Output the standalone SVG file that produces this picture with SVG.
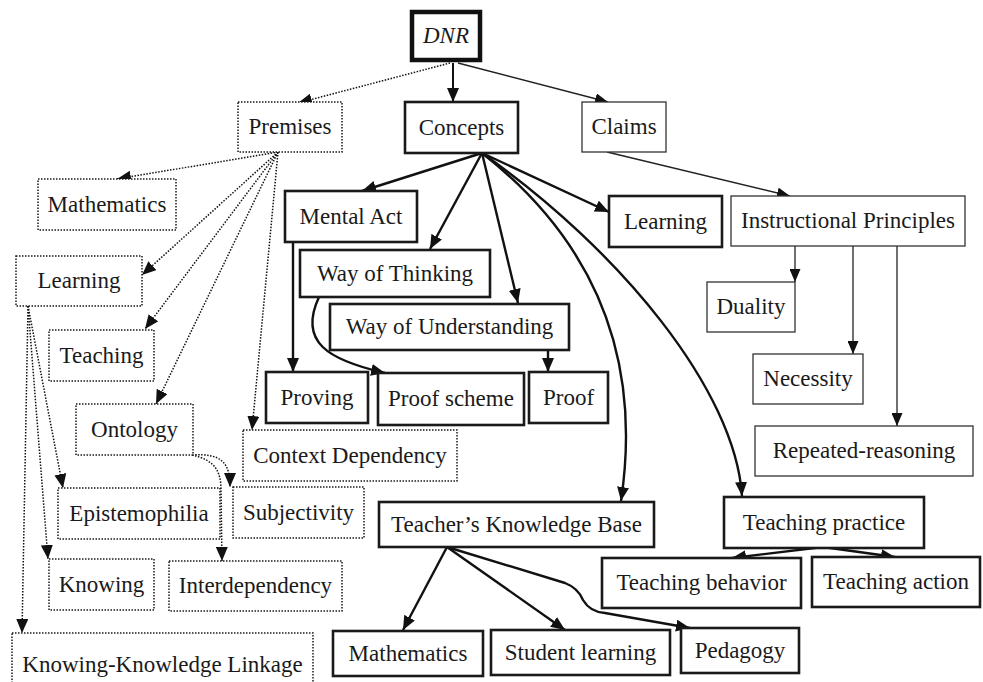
<svg xmlns="http://www.w3.org/2000/svg" width="983" height="682" viewBox="0 0 983 682">
<defs>
<marker id="ah" viewBox="0 0 14 12" refX="14" refY="6" markerWidth="14" markerHeight="12" markerUnits="userSpaceOnUse" orient="auto"><path d="M0,0 L14,6 L0,12 z" fill="#111"/></marker>
<marker id="ahs" viewBox="0 0 13 11" refX="13" refY="5.5" markerWidth="13" markerHeight="11" markerUnits="userSpaceOnUse" orient="auto"><path d="M0,0 L13,5.5 L0,11 z" fill="#111"/></marker>
<style>
.lbl text{font-size:23px;fill:#1a1a1a;text-anchor:middle}
.thick{fill:#fff;stroke:#1a1a1a;stroke-width:2.6}
.thin{fill:#fff;stroke:#333;stroke-width:1.3}
.dot{fill:#fff;stroke:#1a1a1a;stroke-width:1.5;stroke-dasharray:1.5 1.5}
.top{fill:#fff;stroke:#111;stroke-width:4.5}
.e{fill:none;stroke:#111;marker-end:url(#ah)}
.ek{stroke-width:2.4}
.en{stroke-width:1.3;stroke:#222;marker-end:url(#ahs)}
.ed{stroke-width:1.5;stroke-dasharray:1.5 1.5}
</style>
</defs>
<rect width="983" height="682" fill="#fff"/>
<g id="connectors">
<path class="e ek" d="M453,63 L453,102" style="stroke-width:2"/>
<path class="e ed" d="M450,63 L298,103"/>
<path class="e en" d="M458,63 L608,102"/>
<path class="e ed" d="M278,152 L117,179"/>
<path class="e ed" d="M278,152 L142,275"/>
<path class="e ed" d="M278,152 L145,329"/>
<path class="e ed" d="M278,152 L156,404"/>
<path class="e ed" d="M278,152 L252,430"/>
<path class="e ed" d="M28,306 L63,488"/>
<path class="e ed" d="M28,306 L48,559"/>
<path class="e ed" d="M28,306 L22,633"/>
<path class="e ed" d="M192,455 C222,453 230,463 230,487"/>
<path class="e ed" d="M192,455 C214,460 221,470 221,490 L222,561"/>
<path class="e ek" d="M482,153 L362,191"/>
<path class="e ek" d="M482,153 L430,249"/>
<path class="e ek" d="M482,153 L518,303"/>
<path class="e ek" d="M482,153 L609,212"/>
<path class="e ek" d="M482,153 C580,230 645,340 621,501"/>
<path class="e ek" d="M482,153 C620,250 735,390 742,496"/>
<path class="e ek" d="M293,242 L293,372"/>
<path class="e ek" d="M319,297 C298,342 328,360 385,373"/>
<path class="e ek" d="M548,350 L548,372"/>
<path class="e en" d="M607,152 L790,196"/>
<path class="e en" d="M795,246 L795,282"/>
<path class="e en" d="M853,246 L853,354"/>
<path class="e en" d="M897,246 L897,426"/>
<path class="e ek" d="M447,547 L403,630"/>
<path class="e ek" d="M447,547 L565,630"/>
<path class="e ek" d="M447,547 L565,583 Q578,588 583,600 Q590,612 605,613 L690,628"/>
<path class="e ek" d="M823,547 L732,558"/>
<path class="e ek" d="M823,547 L895,557"/>
</g>
<g class="lbl" font-family="'Liberation Serif', 'Times New Roman', 'DejaVu Serif', serif">
<g id="n-dnr"><rect class="top" x="412" y="12" width="68" height="48"/><text x="446" y="43" font-style="italic">DNR</text></g>
<g id="n-premises"><rect class="dot" x="238" y="102" width="104" height="50"/><text x="290" y="134">Premises</text></g>
<g id="n-concepts"><rect class="thick" x="405" y="102" width="113" height="51"/><text x="461.5" y="134.5">Concepts</text></g>
<g id="n-claims"><rect class="thin" x="582" y="102" width="84" height="50"/><text x="624" y="134">Claims</text></g>
<g id="n-p-math"><rect class="dot" x="38" y="179" width="138" height="51"/><text x="107" y="211.5">Mathematics</text></g>
<g id="n-p-learning"><rect class="dot" x="16" y="256" width="126" height="50"/><text x="79" y="288">Learning</text></g>
<g id="n-teaching"><rect class="dot" x="49" y="330" width="105" height="51"/><text x="101.5" y="362.5">Teaching</text></g>
<g id="n-ontology"><rect class="dot" x="76" y="404" width="117" height="51"/><text x="134.5" y="436.5">Ontology</text></g>
<g id="n-epistemophilia"><rect class="dot" x="58" y="488" width="162" height="51"/><text x="139" y="520.5">Epistemophilia</text></g>
<g id="n-knowing"><rect class="dot" x="49" y="559" width="105" height="51"/><text x="101.5" y="591.5">Knowing</text></g>
<g id="n-kk"><rect class="dot" x="12" y="633" width="301" height="60"/><text x="162.5" y="672">Knowing-Knowledge Linkage</text></g>
<g id="n-interdependency"><rect class="dot" x="169" y="561" width="173" height="50"/><text x="255.5" y="593">Interdependency</text></g>
<g id="n-subjectivity"><rect class="dot" x="233" y="487" width="131" height="51"/><text x="298.5" y="519.5">Subjectivity</text></g>
<g id="n-context"><rect class="dot" x="243" y="430" width="214" height="51"/><text x="350" y="462.5">Context Dependency</text></g>
<g id="n-mental"><rect class="thick" x="285" y="191" width="132" height="51"/><text x="351" y="223.5">Mental Act</text></g>
<g id="n-wot"><rect class="thick" x="300" y="250" width="190" height="47"/><text x="395" y="280.5">Way of Thinking</text></g>
<g id="n-wou"><rect class="thick" x="330" y="304" width="239" height="46"/><text x="449.5" y="334">Way of Understanding</text></g>
<g id="n-proving"><rect class="thick" x="266" y="372" width="102" height="51"/><text x="317" y="404.5">Proving</text></g>
<g id="n-proofscheme"><rect class="thick" x="378" y="373" width="146" height="52"/><text x="451" y="406">Proof scheme</text></g>
<g id="n-proof"><rect class="thick" x="529" y="372" width="79" height="51"/><text x="568.5" y="404.5">Proof</text></g>
<g id="n-c-learning"><rect class="thick" x="609" y="196" width="113" height="51"/><text x="665.5" y="228.5">Learning</text></g>
<g id="n-ip"><rect class="thin" x="731" y="196" width="234" height="50"/><text x="848" y="228">Instructional Principles</text></g>
<g id="n-duality"><rect class="thin" x="707" y="282" width="88" height="50"/><text x="751" y="314">Duality</text></g>
<g id="n-necessity"><rect class="thin" x="753" y="354" width="110" height="50"/><text x="808" y="386">Necessity</text></g>
<g id="n-repeated"><rect class="thin" x="755" y="426" width="218" height="50"/><text x="864" y="458">Repeated-reasoning</text></g>
<g id="n-tkb"><rect class="thick" x="379" y="502" width="275" height="45"/><text x="516.5" y="531.5">Teacher’s Knowledge Base</text></g>
<g id="n-tpractice"><rect class="thick" x="724" y="497" width="200" height="51"/><text x="824" y="529.5">Teaching practice</text></g>
<g id="n-tbehavior"><rect class="thick" x="602" y="558" width="199" height="50"/><text x="701.5" y="590">Teaching behavior</text></g>
<g id="n-taction"><rect class="thick" x="812" y="557" width="168" height="50"/><text x="896" y="589">Teaching action</text></g>
<g id="n-t-math"><rect class="thick" x="333" y="631" width="150" height="45"/><text x="408" y="660.5">Mathematics</text></g>
<g id="n-student"><rect class="thick" x="491" y="630" width="179" height="45"/><text x="580.5" y="659.5">Student learning</text></g>
<g id="n-pedagogy"><rect class="thick" x="681" y="628" width="118" height="45"/><text x="740" y="657.5">Pedagogy</text></g>
</g>
</svg>
